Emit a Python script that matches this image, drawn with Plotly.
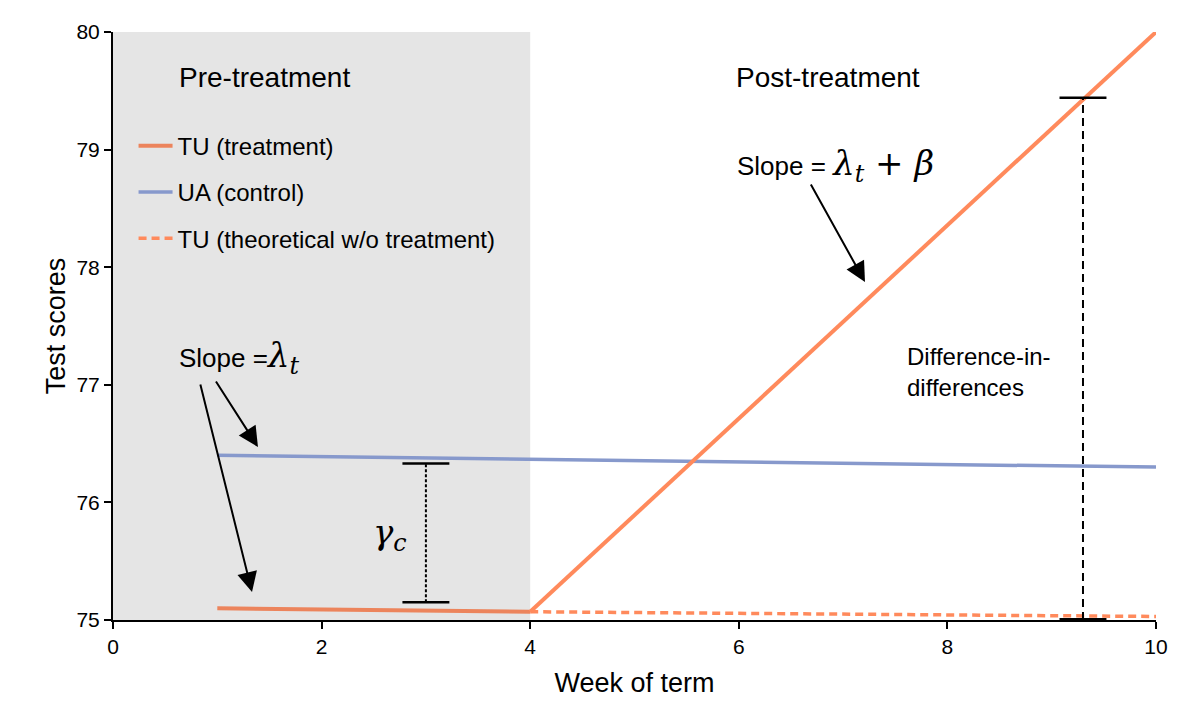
import plotly.graph_objects as go

# ---- data ----
tu_pre_weeks = [1, 4]
tu_pre_scores = [75.10, 75.07]
tu_post_weeks = [4, 10]
tu_post_scores = [75.07, 80.0]
ua_weeks = [1, 10]
ua_scores = [76.40, 76.30]
theo_weeks = [4, 10]
theo_scores = [75.07, 75.03]

gamma_week = 3.0
gamma_range = [75.15, 76.33]
did_week = 9.3
did_range = [75.0, 79.44]
cap_half = 0.225

pre_period = [0, 4]
y_range = [75, 80]
x_ticks = [0, 2, 4, 6, 8, 10]
y_ticks = [75, 76, 77, 78, 79, 80]

ORANGE = "#FF8A5C"
ORANGE_DARK = "#EC845C"
BLUE = "#8799CC"
FONT = "Liberation Sans, Arial, Helvetica, sans-serif"
MATH = "DejaVu Serif, serif"

fig = go.Figure()

fig.add_trace(go.Scatter(x=tu_pre_weeks, y=tu_pre_scores, mode="lines",
                         line=dict(color=ORANGE_DARK, width=4),
                         name="TU (treatment)", legendgroup="a"))
fig.add_trace(go.Scatter(x=ua_weeks, y=ua_scores, mode="lines",
                         line=dict(color=BLUE, width=3.5),
                         name="UA (control)", legendgroup="b"))
fig.add_trace(go.Scatter(x=theo_weeks, y=theo_scores, mode="lines",
                         line=dict(color=ORANGE, width=3.5, dash="8px,5px"),
                         name="TU (theoretical w/o treatment)", legendgroup="c"))
fig.add_trace(go.Scatter(x=tu_post_weeks, y=tu_post_scores, mode="lines",
                         line=dict(color=ORANGE, width=4),
                         showlegend=False, legendgroup="a"))


def bracket(xc, yr, dash, width_bot=2.5):
    fig.add_trace(go.Scatter(x=[xc, xc], y=yr, mode="lines",
                             line=dict(color="black", width=2, dash=dash),
                             showlegend=False, hoverinfo="skip"))
    for i, yv in enumerate(yr):
        fig.add_trace(go.Scatter(x=[xc - cap_half, xc + cap_half], y=[yv, yv], mode="lines",
                                 line=dict(color="black", width=width_bot if i == 0 else 2.5),
                                 showlegend=False, hoverinfo="skip"))


bracket(gamma_week, gamma_range, "3px,2px")
bracket(did_week, did_range, "8px,5px", width_bot=4)

fig.add_shape(type="rect", xref="x", yref="y", x0=pre_period[0], x1=pre_period[1],
              y0=y_range[0], y1=y_range[1], fillcolor="#E5E5E5", line=dict(width=0),
              layer="below")

MS = "font-family:DejaVu Serif;font-size:34px"
ann = []
ann.append(dict(x=1.448, y=79.617, text="Pre-treatment", showarrow=False,
                font=dict(size=28, family=FONT, color="black")))
ann.append(dict(x=6.855, y=79.617, text="Post-treatment", showarrow=False,
                font=dict(size=28, family=FONT, color="black")))
ann.append(dict(x=5.963, y=78.869, xanchor="left", showarrow=False,
                text=(f"Slope = <span style='{MS}'><i>λ</i><sub><i>t</i></sub>"
                      " + <i>β</i></span>"),
                font=dict(size=26, family=FONT, color="black")))
ann.append(dict(x=0.614, y=77.236, xanchor="left", showarrow=False,
                text=f"Slope =<span style='{MS}'><i>λ</i><sub><i>t</i></sub></span>",
                font=dict(size=26, family=FONT, color="black")))
ann.append(dict(x=2.656, y=75.723, showarrow=False,
                text="<i>γ</i><sub><i>c</i></sub>",
                font=dict(size=34, family=MATH, color="black")))
ann.append(dict(x=7.593, y=77.109, xanchor="left", align="left", showarrow=False,
                text="Difference-in-<br>differences",
                font=dict(size=24, family=FONT, color="black")))

arrows = [
    ((1.39, 76.471), (0.978, 77.041)),
    ((1.333, 75.238), (0.834, 77.015)),
    ((7.21, 77.874), (6.683, 78.716)),
]
for (hx, hy), (tx, ty) in arrows:
    ann.append(dict(x=hx, y=hy, ax=tx, ay=ty, axref="x", ayref="y", xref="x", yref="y",
                    text="", showarrow=True, arrowhead=2, arrowsize=2, arrowwidth=2,
                    arrowcolor="black", standoff=0))

for a in ann:
    a.setdefault("xref", "x")
    a.setdefault("yref", "y")

fig.update_layout(
    width=1200, height=720,
    margin=dict(l=105, r=52, t=24, b=108),
    plot_bgcolor="white", paper_bgcolor="white",
    font=dict(family=FONT, color="black"),
    annotations=ann,
    showlegend=True,
    legend=dict(x=0.0197, y=0.844, xanchor="left", yanchor="top",
                bgcolor="rgba(0,0,0,0)", font=dict(size=24, family=FONT),
                tracegroupgap=12, itemwidth=34),
)
fig.update_xaxes(range=[0, 10], tickvals=x_ticks, showline=True, linecolor="black",
                 linewidth=2, ticks="outside", ticklen=7, tickwidth=2, tickcolor="black",
                 showgrid=False, zeroline=False, tickfont=dict(size=21, family=FONT),
                 title=dict(text="Week of term", font=dict(size=27, family=FONT), standoff=16))
fig.update_yaxes(range=y_range, tickvals=y_ticks, showline=True, linecolor="black",
                 linewidth=2, ticks="outside", ticklen=7, tickwidth=2, tickcolor="black",
                 showgrid=False, zeroline=False, tickfont=dict(size=21, family=FONT),
                 title=dict(text="Test scores", font=dict(size=27, family=FONT), standoff=3))

fig.write_html("out.html")
